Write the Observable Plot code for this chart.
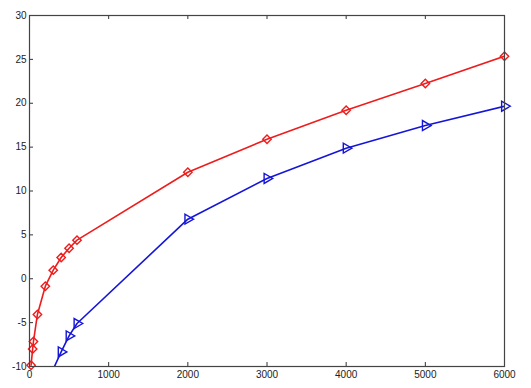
<!DOCTYPE html>
<html>
<head>
<meta charset="utf-8">
<script src="https://cdn.jsdelivr.net/npm/d3@7"></script>
<script src="https://cdn.jsdelivr.net/npm/@observablehq/plot@0.6"></script>
<style>
  html, body { margin: 0; padding: 0; background: #ffffff; }
  #chart svg { display: block; }
</style>
</head>
<body>
<div id="chart"></div>
<script>
// Red series (diamond markers)
const redX = [20, 40, 50, 100, 200, 300, 400, 500, 600, 2000, 3000, 4000, 5000, 6000];
const redY = [-9.85, -8.0, -7.15, -4.07, -0.85, 0.98, 2.42, 3.48, 4.4, 12.14, 15.9, 19.2, 22.25, 25.36];
// Blue series (right-pointing triangle markers); first point lies below the axis and is clipped
const blueX = [300, 400, 500, 600, 2000, 3000, 4000, 5000, 6000];
const blueY = [-10.3, -8.34, -6.51, -5.1, 6.79, 11.43, 14.88, 17.46, 19.66];
// Axis ticks
const xTicks = [0, 1000, 2000, 3000, 4000, 5000, 6000];
const yTicks = [-10, -5, 0, 5, 10, 15, 20, 25, 30];

const red = redX.map((x, i) => ({x, y: redY[i]}));
const blue = blueX.map((x, i) => ({x, y: blueY[i]}));
const yMin = -10, yMax = 30;
const inRange = d => d.y >= yMin && d.y <= yMax;

const W = 531, H = 388;
const mL = 29, mR = 27, mT = 15, mB = 22;
const innerW = W - mL - mR, innerH = H - mT - mB;
const tickLen = 4;
const redColor = "#ee1c1c", blueColor = "#1515d8";

const chart = Plot.plot({
  width: W,
  height: H,
  marginLeft: mL,
  marginRight: mR,
  marginTop: mT,
  marginBottom: mB,
  style: {fontFamily: "'Liberation Sans', Arial, sans-serif", fontSize: "10px", color: "#222", background: "#ffffff"},
  x: {domain: [0, 6000]},
  y: {domain: [yMin, yMax]},
  marks: [
    Plot.axisX(xTicks, {anchor: "bottom", tickSize: 0, tickPadding: 4, label: null, fontSize: 10, tickFormat: d => String(d)}),
    Plot.axisY(yTicks, {anchor: "left", tickSize: 0, tickPadding: 3, label: null, fontSize: 10, tickFormat: d => String(d)}),
    // inward ticks: bottom, top, left
    Plot.tickX(xTicks, {x: d => d, insetTop: innerH - tickLen, stroke: "#333"}),
    Plot.tickX(xTicks, {x: d => d, insetBottom: innerH - tickLen, stroke: "#333"}),
    Plot.tickY(yTicks, {y: d => d, insetRight: innerW - tickLen, stroke: "#333"}),
    Plot.line(red, {x: "x", y: "y", stroke: redColor, strokeWidth: 1.6, clip: true}),
    Plot.dot(red.filter(inRange), {x: "x", y: "y", symbol: "diamond2", r: 3.8, stroke: redColor, strokeWidth: 1.4, fill: "none"}),
    Plot.line(blue, {x: "x", y: "y", stroke: blueColor, strokeWidth: 1.6, clip: true}),
    Plot.dot(blue.filter(inRange), {x: "x", y: "y", symbol: "triangle", rotate: 90, r: 3.7, stroke: blueColor, strokeWidth: 1.4, fill: "none"}),
    Plot.frame({stroke: "#444", strokeWidth: 1.2})
  ]
});
document.getElementById("chart").appendChild(chart);
</script>
</body>
</html>
